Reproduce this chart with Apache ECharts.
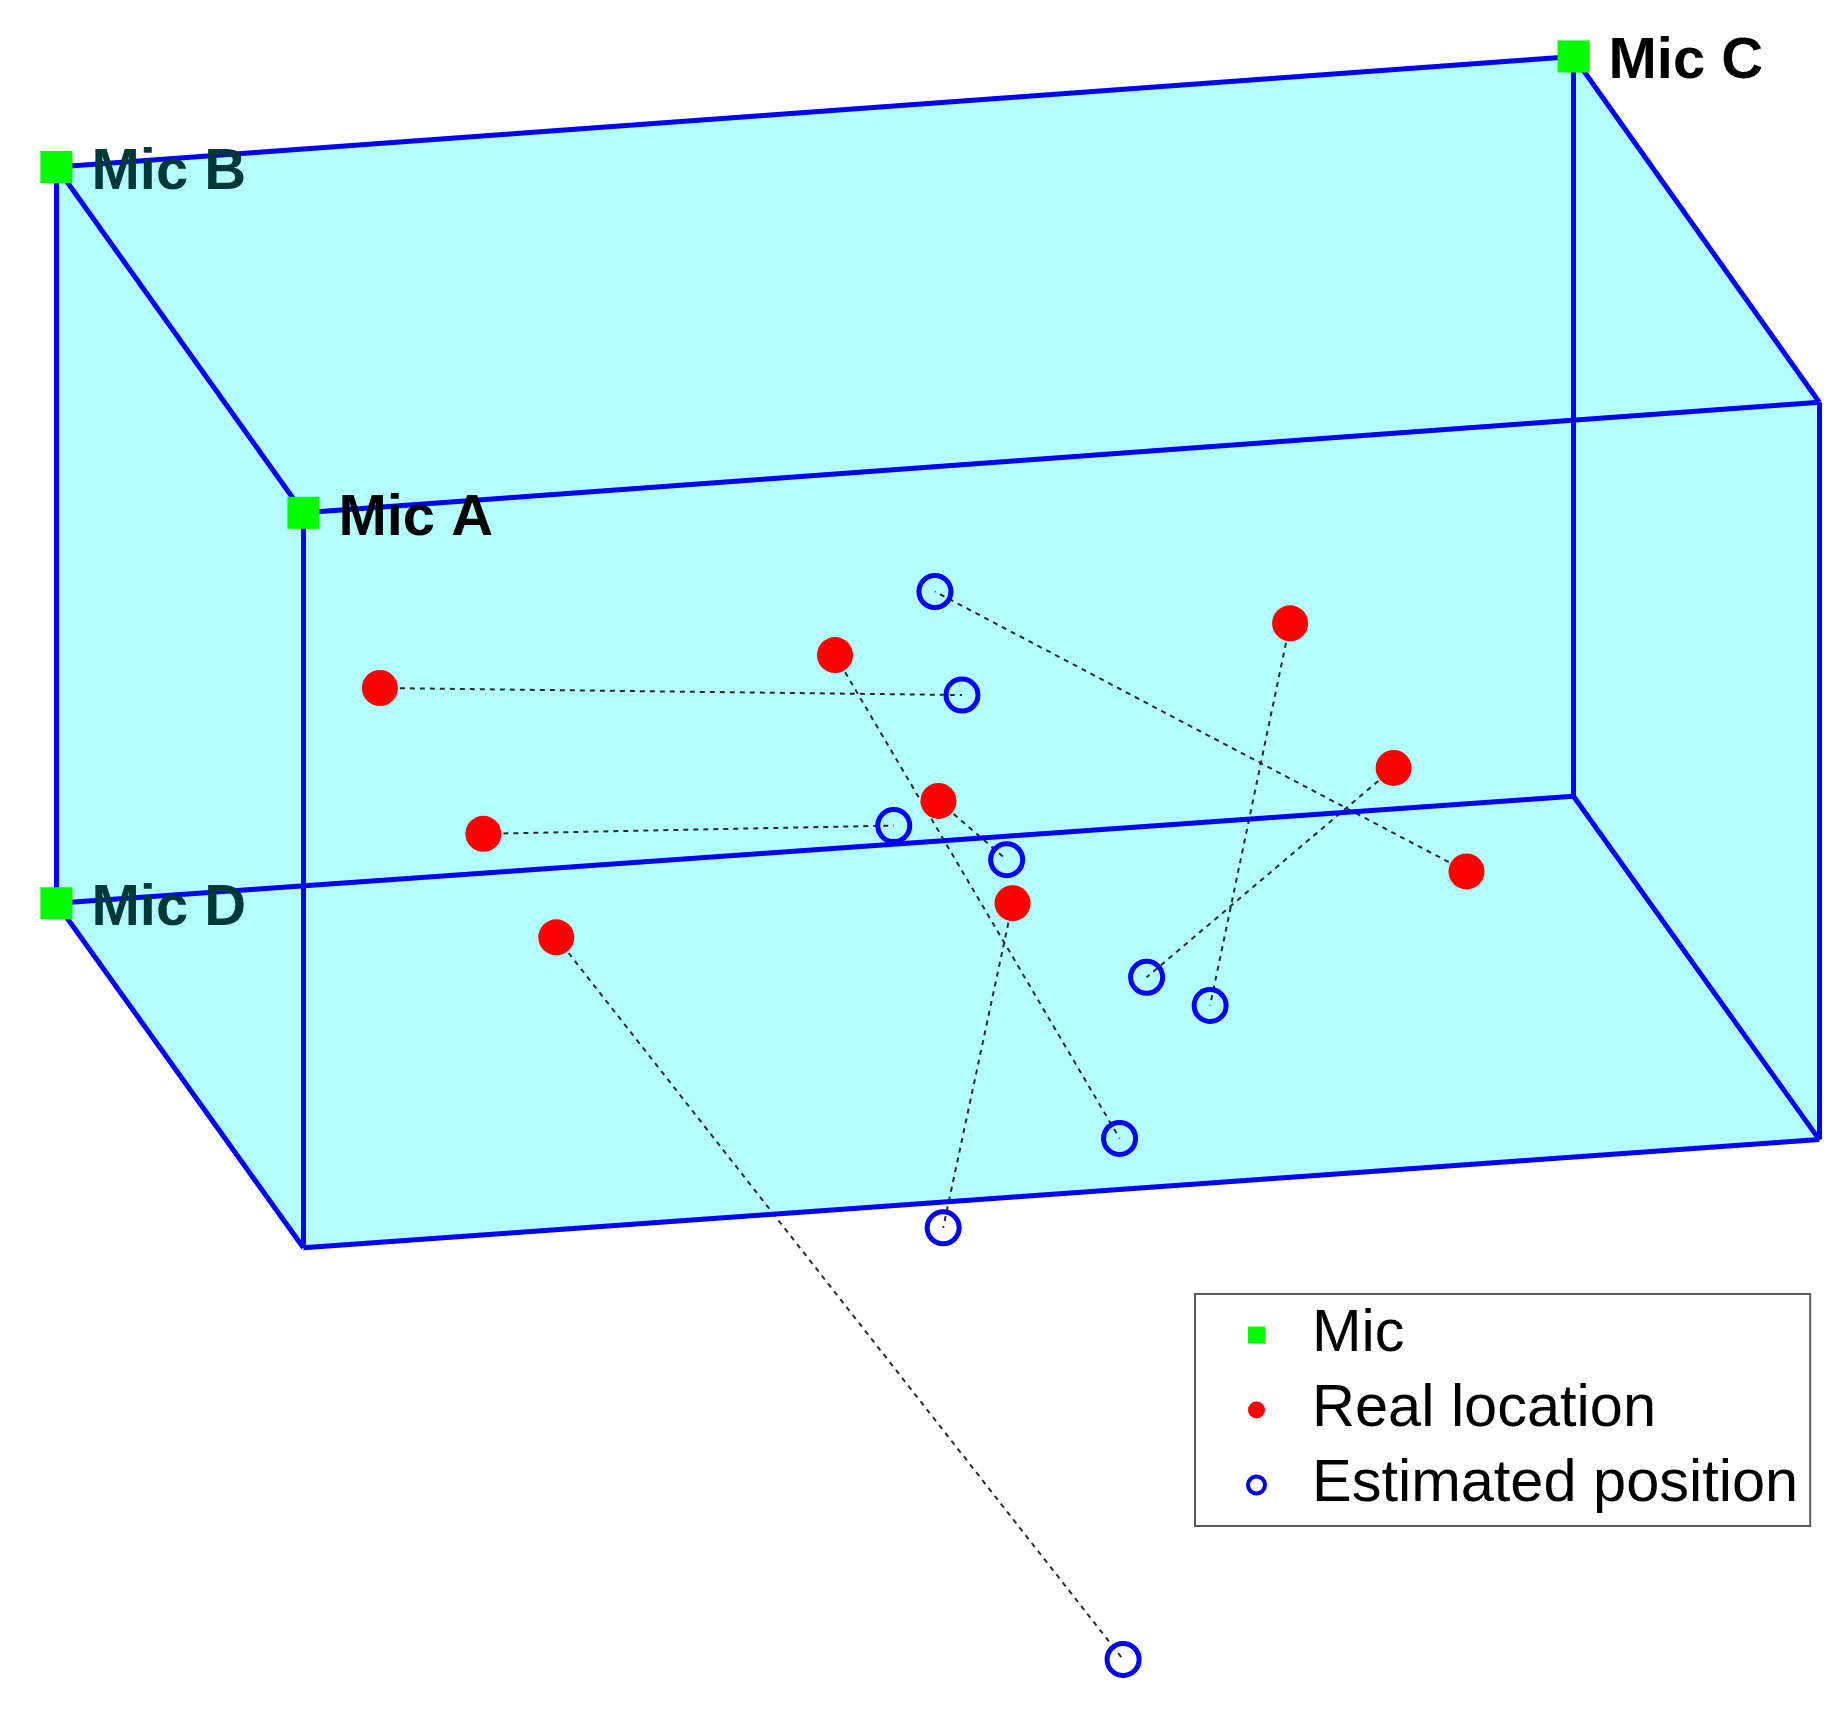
<!DOCTYPE html>
<html>
<head>
<meta charset="utf-8">
<script src="https://cdn.jsdelivr.net/npm/echarts@6/dist/echarts.min.js"></script>
<style>
html,body{margin:0;padding:0;background:#fff;}
#chart{width:1844px;height:1710px;}
</style>
</head>
<body>
<div id="chart"></div>
<script>
// Projected (view-plane) coordinates; x to the right, y downward.
// Box corners: 0 Mic A, 1 Mic B, 2 Mic C, 3 Mic D, 4 top-right-front, 5 bottom-right-back, 6 bottom-left-front, 7 bottom-right-front
const boxX = [258, 48, 1338, 48, 1547, 1338, 258, 1547];
const boxY = [436, 142, 48, 768, 342, 677, 1061, 969];
const boxEdges = [[1,2],[1,0],[0,4],[2,4],[1,3],[0,6],[2,5],[4,7],[3,6],[3,5],[6,7],[5,7]];
const boxHull = [1,2,4,7,6,3];

const micNames = ['Mic A', 'Mic B', 'Mic C', 'Mic D'];
const micCorner = [0, 1, 2, 3];

const realX = [323, 710, 1097, 798, 1185, 411, 861, 1247, 473];
const realY = [585, 557, 530, 681, 653, 709, 768, 741, 797];

const estX = [818, 952, 1029, 856, 975, 760, 802, 795, 955];
const estY = [591, 968, 855, 731, 831, 702, 1044, 503, 1411];

const legendNames = ['Mic', 'Real location', 'Estimated position'];

const FONT = "'Liberation Sans', Arial, Helvetica, sans-serif";

const hullPts = boxHull.map(i => [boxX[i], boxY[i]]);
const edgeData = boxEdges.map(e => ({coords: [[boxX[e[0]], boxY[e[0]]], [boxX[e[1]], boxY[e[1]]]]}));
const pairData = realX.map((x, i) => ({coords: [[x, realY[i]], [estX[i], estY[i]]]}));
const micData = micNames.map((n, i) => {
  const c = micCorner[i];
  const behind = (n === 'Mic B' || n === 'Mic D');
  return {name: n, value: [boxX[c], boxY[c]], label: {color: behind ? '#003838' : '#000000'}};
});
const realData = realX.map((x, i) => [x, realY[i]]);
const estData = estX.map((x, i) => [x, estY[i]]);

const chart = echarts.init(document.getElementById('chart'), null, {renderer: 'canvas'});
chart.setOption({
  animation: false,
  backgroundColor: '#ffffff',
  grid: {left: 0, right: 0, top: 0, bottom: 0, containLabel: false},
  xAxis: {type: 'value', min: 0, max: 1568, show: false},
  yAxis: {type: 'value', min: 0, max: 1454, inverse: true, show: false},
  legend: {
    orient: 'vertical',
    left: 1195, top: 1294,
    itemWidth: 17, itemHeight: 17, itemGap: 13,
    padding: [10, 12, 10, 51],
    borderColor: '#5a5a5a', borderWidth: 2, backgroundColor: '#ffffff',
    selectedMode: false,
    textStyle: {fontSize: 59.5, fontFamily: FONT, color: '#000000', lineHeight: 62, padding: [0, 0, 0, 42]},
    data: [
      {name: legendNames[0], icon: 'rect', itemStyle: {color: '#00ff00', opacity: 1}},
      {name: legendNames[1], icon: 'circle', itemStyle: {color: '#ff0000', opacity: 1}},
      {name: legendNames[2], icon: 'circle', itemStyle: {color: '#ffffff', borderColor: '#0000ff', borderWidth: 4, opacity: 1}}
    ]
  },
  series: [
    {
      type: 'custom', name: 'room', silent: true, z: 1,
      data: [[0, 0]],
      renderItem: function (params, api) {
        return {
          type: 'polygon',
          shape: {points: hullPts.map(p => api.coord(p))},
          style: {fill: '#b3ffff', stroke: 'none'}
        };
      }
    },
    {
      type: 'lines', name: 'pairs', coordinateSystem: 'cartesian2d', silent: true, z: 2,
      data: pairData,
      lineStyle: {color: '#2a2a2a', width: 2, type: [5, 5], opacity: 1}
    },
    {
      type: 'lines', name: 'edges', coordinateSystem: 'cartesian2d', silent: true, z: 3,
      data: edgeData,
      lineStyle: {color: '#0000ff', width: 5, opacity: 1}
    },
    {
      type: 'scatter', name: legendNames[1], z: 5,
      data: realData,
      symbol: 'circle', symbolSize: 36,
      itemStyle: {color: '#ff0000', opacity: 1}
    },
    {
      type: 'scatter', name: legendNames[2], z: 5,
      data: estData,
      symbol: 'circle', symbolSize: 32,
      itemStyle: {color: 'rgba(0,0,0,0)', borderColor: '#0000ff', borderWidth: 5, opacity: 1}
    },
    {
      type: 'scatter', name: legendNames[0], z: 6,
      data: micData,
      symbol: 'rect', symbolSize: 32,
      itemStyle: {color: '#00ff00', opacity: 1},
      label: {show: true, position: 'right', distance: 19, offset: [0, 6], formatter: '{b}',
              fontSize: 58, fontWeight: 'bold', fontFamily: FONT, opacity: 1}
    }
  ]
});
</script>
</body>
</html>
